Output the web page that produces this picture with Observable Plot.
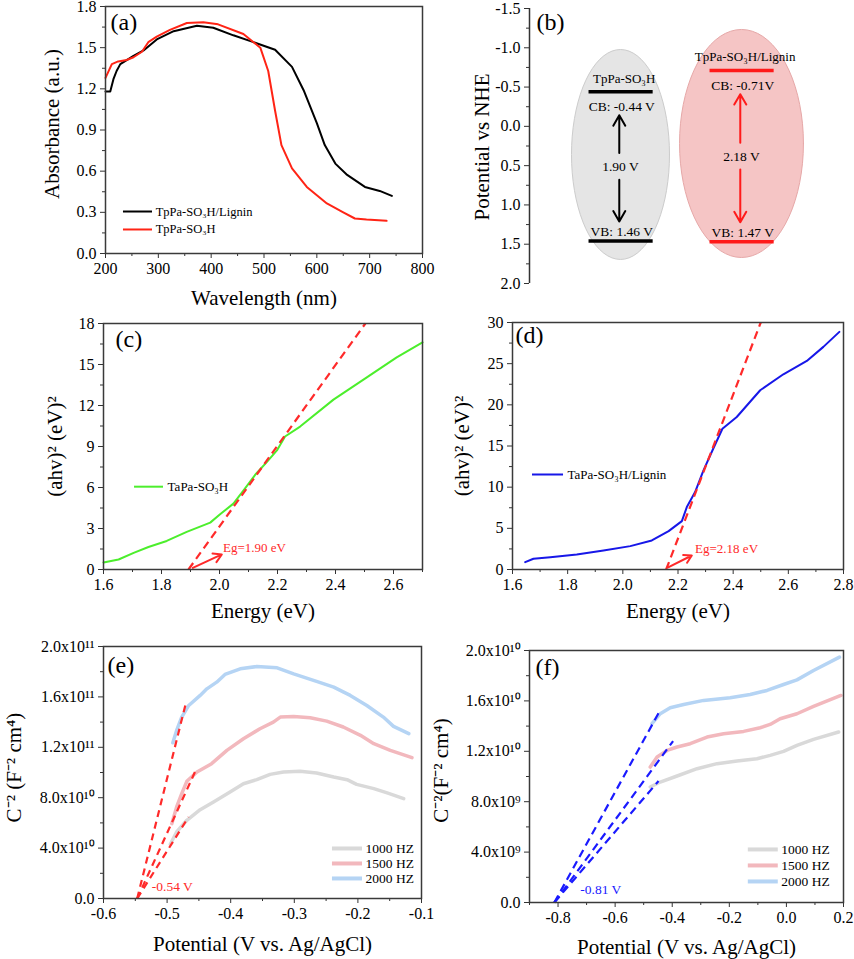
<!DOCTYPE html>
<html><head><meta charset="utf-8">
<script src="https://cdn.jsdelivr.net/npm/d3@7"></script>
<script src="https://cdn.jsdelivr.net/npm/@observablehq/plot@0.6"></script>
<style>
body{margin:0;background:#fff;}
#fig{position:relative;width:854px;height:959px;overflow:hidden;background:#fff;}
#fig svg, #fig svg text, #fig svg g{font-family:"Liberation Serif","Times New Roman",serif !important;}
</style></head><body><div id="fig"></div>
<script>
// ---------- (a) UV-vis absorbance ----------
const absLigninX = [200,209,215,221,228,253,272,297,329,373,404,442,480,521,553,575,600,615,635,656,691,719,742];
const absLigninY = [1.18,1.18,1.27,1.33,1.38,1.44,1.48,1.56,1.62,1.66,1.645,1.59,1.54,1.485,1.36,1.19,0.95,0.79,0.655,0.577,0.485,0.456,0.42];
const absSO3HX = [200,212,224,240,253,269,281,297,322,354,385,413,461,493,508,521,533,553,581,619,650,672,694,732];
const absSO3HY = [1.28,1.38,1.40,1.41,1.43,1.47,1.54,1.58,1.63,1.68,1.686,1.67,1.60,1.50,1.33,1.04,0.79,0.62,0.485,0.365,0.30,0.255,0.247,0.238];
const aLegend = ["TpPa-SO₃H/Lignin", "TpPa-SO₃H"];
const aXTicks = [200,300,400,500,600,700,800];
const aYTicks = [0,0.3,0.6,0.9,1.2,1.5,1.8];

// ---------- (b) band structure ----------
const bandMaterials = ["TpPa-SO₃H", "TpPa-SO₃H/Lignin"];
const bandCB = [-0.44, -0.71];
const bandVB = [1.46, 1.47];
const bandGap = [1.90, 2.18];
const bandCBLabels = ["CB: -0.44 V", "CB: -0.71V"];
const bandVBLabels = ["VB: 1.46 V", "VB: 1.47 V"];
const bandGapLabels = ["1.90 V", "2.18 V"];
const bYTicks = [-1.5,-1.0,-0.5,0,0.5,1.0,1.5,2.0];

// ---------- (c) Tauc TaPa-SO3H ----------
const energyC = [1.6,1.652,1.704,1.755,1.818,1.887,1.968,2.002,2.048,2.083,2.123,2.163,2.198,2.226,2.278,2.393,2.508,2.611,2.7];
const ahvC = [0.51,0.73,1.22,1.65,2.09,2.75,3.43,4.04,4.82,5.79,6.93,7.86,8.71,9.73,10.46,12.43,14.06,15.52,16.62];
const fitC = [{x1: 1.893, y1: 0, x2: 2.503, y2: 18}];
const cXTicks = [1.6,1.8,2.0,2.2,2.4,2.6];
const cYTicks = [0,3,6,9,12,15,18];

// ---------- (d) Tauc TaPa-SO3H/Lignin ----------
const energyD = [1.646,1.676,1.737,1.833,1.930,2.027,2.105,2.166,2.214,2.232,2.262,2.292,2.328,2.361,2.413,2.498,2.582,2.667,2.727,2.785];
const ahvD = [0.89,1.30,1.50,1.82,2.31,2.84,3.53,4.66,5.88,7.58,9.40,12.0,14.7,17.1,18.52,21.77,23.71,25.33,27.04,28.86];
const fitD = [{x1: 2.157, y1: 0, x2: 2.50, y2: 30}];
const dXTicks = [1.6,1.8,2.0,2.2,2.4,2.6,2.8];
const dYTicks = [0,5,10,15,20,25,30];

// ---------- (e) Mott-Schottky TpPa-SO3H (units of 1e10) ----------
const eGreyX = [-0.495,-0.485,-0.469,-0.448,-0.427,-0.401,-0.380,-0.359,-0.338,-0.317,-0.291,-0.265,-0.238,-0.217,-0.202,-0.175,-0.154,-0.128];
const eGreyY = [4.31,5.28,6.21,7.05,7.66,8.45,9.11,9.43,9.85,10.04,10.09,9.96,9.64,9.43,9.06,8.72,8.38,7.93];
const ePinkX = [-0.4926,-0.485,-0.477,-0.469,-0.453,-0.430,-0.406,-0.380,-0.354,-0.333,-0.322,-0.301,-0.275,-0.249,-0.223,-0.196,-0.175,-0.149,-0.115];
const ePinkY = [5.94,7.27,8.32,9.30,10.04,10.70,11.76,12.68,13.47,14.0,14.40,14.45,14.35,14.08,13.61,12.95,12.29,11.76,11.18];
const eBlueX = [-0.491,-0.485,-0.477,-0.466,-0.448,-0.4375,-0.422,-0.409,-0.385,-0.359,-0.327,-0.301,-0.265,-0.238,-0.212,-0.186,-0.160,-0.144,-0.120];
const eBlueY = [12.36,13.34,14.40,15.32,16.12,16.64,17.17,17.78,18.23,18.41,18.31,17.83,17.23,16.78,16.12,15.32,14.40,13.66,13.08];
const fitE = [{x1:-0.547,y1:0,x2:-0.4705,y2:15.51},{x1:-0.547,y1:0,x2:-0.4543,y2:10.25},{x1:-0.547,y1:0,x2:-0.4663,y2:6.47}];
const eXTicks = [-0.6,-0.5,-0.4,-0.3,-0.2,-0.1];
const eYTicks = [0,4,8,12,16,20];
const eYLabels = ["0.0","4.0x10¹⁰","8.0x10¹⁰","1.2x10¹¹","1.6x10¹¹","2.0x10¹¹"];

// ---------- (f) Mott-Schottky TpPa-SO3H/Lignin (units of 1e9) ----------
const fGreyX = [-0.477,-0.442,-0.383,-0.313,-0.243,-0.173,-0.103,-0.057,-0.010,0.037,0.095,0.183];
const fGreyY = [9.17,9.56,10.04,10.62,11.02,11.23,11.41,11.68,11.99,12.47,12.95,13.53];
const fPinkX = [-0.477,-0.453,-0.418,-0.383,-0.337,-0.278,-0.220,-0.150,-0.092,-0.057,-0.022,0.037,0.095,0.191];
const fPinkY = [10.75,11.55,12.07,12.34,12.60,13.13,13.39,13.58,13.87,14.13,14.58,14.98,15.56,16.43];
const fBlueX = [-0.471,-0.442,-0.407,-0.360,-0.290,-0.197,-0.127,-0.068,-0.010,0.037,0.095,0.186];
const fBlueY = [14.19,14.98,15.46,15.72,16.04,16.25,16.51,16.83,17.30,17.67,18.41,19.47];
const fitF = [{x1:-0.813,y1:0,x2:-0.444,y2:15.19},{x1:-0.813,y1:0,x2:-0.397,y2:12.81},{x1:-0.813,y1:0,x2:-0.448,y2:9.64}];
const fXTicks = [-0.8,-0.6,-0.4,-0.2,0,0.2];
const fYTicks = [0,4,8,12,16,20];
const fYLabels = ["0.0","4.0x10⁹","8.0x10⁹","1.2x10¹⁰","1.6x10¹⁰","2.0x10¹⁰"];
const freqLabels = ["1000 HZ","1500 HZ","2000 HZ"];

// ---------- helpers ----------
const FONT = '"Liberation Serif", "Times New Roman", serif';
const AX = "#333";
const pts = (xs, ys) => xs.map((x, i) => ({x, y: ys[i]}));
const fig = document.getElementById("fig");
function place(el, left, top) {
  el.style.position = "absolute";
  el.style.left = left + "px";
  el.style.top = top + "px";
  fig.appendChild(el);
}
const style = {fontFamily: FONT, fontSize: "16px", color: "#000", background: "transparent", overflow: "visible"};
const fix1 = d => d.toFixed(1);
function axes(xT, xM, xF, yT, yM, yF) {
  const m = [];
  if (xT) {
    m.push(Plot.axisX({ticks: xM, tickSize: 3, tickFormat: () => "", stroke: AX, label: null}));
    m.push(Plot.axisX({ticks: xT, tickSize: 5, tickFormat: xF, stroke: AX, fontSize: 16, fontFamily: FONT, label: null}));
  }
  m.push(Plot.axisY({ticks: yM, tickSize: 3, tickFormat: () => "", stroke: AX, label: null}));
  m.push(Plot.axisY({ticks: yT, tickSize: 5, tickFormat: yF, stroke: AX, fontSize: 16, fontFamily: FONT, label: null}));
  return m;
}
function yTitle(t, dx, dy) {
  return Plot.text([t], {text: d => d, frameAnchor: "left", rotate: -90, dx, dy, textAnchor: "middle", lineAnchor: "middle", fontSize: 21, fontFamily: FONT});
}
function xTitle(t, dy) {
  return Plot.text([t], {text: d => d, frameAnchor: "bottom", dy, textAnchor: "middle", lineAnchor: "middle", fontSize: 21, fontFamily: FONT});
}
function tag(t, dx, dy) {
  return Plot.text([t], {text: d => d, frameAnchor: "top-left", dx, dy, textAnchor: "start", lineAnchor: "middle", fontSize: 24, fontFamily: FONT});
}
const frame = () => Plot.frame({stroke: "#3a3a3a", strokeWidth: 1.5});

// ---------- (a) ----------
place(Plot.plot({
  width: 430, height: 315, marginLeft: 105, marginRight: 8, marginTop: 6, marginBottom: 62,
  style,
  x: {domain: [200, 800]},
  y: {domain: [0, 1.8]},
  marks: [
    ...axes(aXTicks, [250,350,450,550,650,750], d => String(d), aYTicks, [0.15,0.45,0.75,1.05,1.35,1.65], fix1),
    Plot.line(pts(absLigninX, absLigninY), {x: "x", y: "y", stroke: "#000", strokeWidth: 2}),
    Plot.line(pts(absSO3HX, absSO3HY), {x: "x", y: "y", stroke: "#ff2415", strokeWidth: 2}),
    Plot.ruleY([0.306], {x1: 234, x2: 289, stroke: "#000", strokeWidth: 2}),
    Plot.ruleY([0.175], {x1: 234, x2: 289, stroke: "#ff2415", strokeWidth: 2}),
    Plot.text([aLegend[0]], {x: 295, y: 0.306, text: d => d, textAnchor: "start", fontSize: 12.5, fontFamily: FONT}),
    Plot.text([aLegend[1]], {x: 295, y: 0.175, text: d => d, textAnchor: "start", fontSize: 12.5, fontFamily: FONT}),
    frame(),
    tag("(a)", 5, 16),
    yTitle("Absorbance (a.u.)", -53, -6),
    xTitle("Wavelength (nm)", 45)
  ]
}), 0, 0);

// ---------- (b) ----------
function ellipse(cx, cy, rx, ry) {
  return d3.range(0, 361, 5).map(a => ({x: cx + rx * Math.cos(a * Math.PI / 180), y: cy + ry * Math.sin(a * Math.PI / 180)}));
}
const bData = bandMaterials.map((m, i) => ({m, x: i + 1, cb: bandCB[i], vb: bandVB[i], gap: bandGap[i], mid: (bandCB[i] + bandVB[i]) / 2,
  cbl: bandCBLabels[i], vbl: bandVBLabels[i], gl: bandGapLabels[i]}));
const bColors = ["#000", "#ff1a1a"];
const bMarks = [
  Plot.line(ellipse(1, 0.358, 0.405, 1.336), {x: "x", y: "y", fill: "#e5e5e5", stroke: "#cccccc", strokeWidth: 1}),
  Plot.line(ellipse(2, 0.218, 0.512, 1.451), {x: "x", y: "y", fill: "#f5c5c5", stroke: "#e6a8a8", strokeWidth: 1})
];
bData.forEach((d, i) => {
  const c = bColors[i];
  bMarks.push(
    Plot.ruleY([d], {y: "cb", x1: d.x - 0.26, x2: d.x + 0.27, stroke: c, strokeWidth: 3.5}),
    Plot.ruleY([d], {y: "vb", x1: d.x - 0.26, x2: d.x + 0.27, stroke: c, strokeWidth: 3.5}),
    Plot.text([d], {x: d.x + 0.03, y: d.cb - 0.17, text: "m", fontSize: 13, fontFamily: FONT}),
    Plot.text([d], {x: d.x + 0.01, y: d.cb + 0.19, text: "cbl", fontSize: 13.5, fontFamily: FONT}),
    Plot.text([d], {x: d.x + 0.01, y: d.vb - 0.12, text: "vbl", fontSize: 13.5, fontFamily: FONT}),
    Plot.text([d], {x: d.x + 0.0, y: d.mid, text: "gl", fontSize: 13.5, fontFamily: FONT}),
    Plot.arrow([d], {x1: d.x - 0.01, x2: d.x - 0.01, y1: d.mid - 0.17, y2: d.cb + 0.30, stroke: c, strokeWidth: 2, headLength: 9}),
    Plot.arrow([d], {x1: d.x - 0.01, x2: d.x - 0.01, y1: d.mid + 0.17, y2: d.vb - 0.25, stroke: c, strokeWidth: 2, headLength: 9})
  );
});
place(Plot.plot({
  width: 424, height: 315, marginLeft: 99, marginRight: 0, marginTop: 8, marginBottom: 32,
  style,
  x: {domain: [0.248, 2.934], axis: null},
  y: {domain: [-1.5, 2.0], reverse: true},
  marks: [
    ...bMarks,
    ...axes(null, null, null, bYTicks, [-1.25,-0.75,-0.25,0.25,0.75,1.25,1.75], fix1),
    Plot.ruleX([0.248], {stroke: AX, strokeWidth: 1.5}),
    tag("(b)", 7, 14),
    yTitle("Potential vs NHE", -47, 1)
  ]
}), 430, 0);

// ---------- (c) ----------
place(Plot.plot({
  width: 430, height: 310, marginLeft: 103, marginRight: 8, marginTop: 8, marginBottom: 56,
  style,
  x: {domain: [1.6, 2.7]},
  y: {domain: [0, 18]},
  marks: [
    ...axes(cXTicks, [1.7,1.9,2.1,2.3,2.5,2.7], fix1, cYTicks, [1.5,4.5,7.5,10.5,13.5,16.5], d => String(d)),
    Plot.line(pts(energyC, ahvC), {x: "x", y: "y", stroke: "#4cee2c", strokeWidth: 2}),
    Plot.link(fitC, {x1: "x1", y1: "y1", x2: "x2", y2: "y2", stroke: "#ff2a2a", strokeWidth: 2.2, strokeDasharray: "8,5"}),
    Plot.arrow([0], {x1: 1.908, y1: 0.12, x2: 2.008, y2: 1.1, stroke: "#ff2a2a", strokeWidth: 2, headLength: 7}),
    Plot.text(["Eg=1.90 eV"], {x: 2.012, y: 1.56, text: d => d, textAnchor: "start", fill: "#ff2a2a", fontSize: 13, fontFamily: FONT}),
    Plot.ruleY([6.06], {x1: 1.707, x2: 1.807, stroke: "#4cee2c", strokeWidth: 2}),
    Plot.text(["TaPa-SO₃H"], {x: 1.821, y: 6.06, text: d => d, textAnchor: "start", fontSize: 13, fontFamily: FONT}),
    frame(),
    tag("(c)", 12, 16),
    yTitle("(ahv)² (eV)²", -48, 0),
    xTitle("Energy (eV)", 42)
  ]
}), 0, 315);

// ---------- (d) ----------
place(Plot.plot({
  width: 424, height: 310, marginLeft: 82, marginRight: 11, marginTop: 7, marginBottom: 56,
  style,
  x: {domain: [1.6, 2.8]},
  y: {domain: [0, 30]},
  marks: [
    ...axes(dXTicks, [1.7,1.9,2.1,2.3,2.5,2.7], fix1, dYTicks, [2.5,7.5,12.5,17.5,22.5,27.5], d => String(d)),
    Plot.line(pts(energyD, ahvD), {x: "x", y: "y", stroke: "#1717e8", strokeWidth: 2}),
    Plot.link(fitD, {x1: "x1", y1: "y1", x2: "x2", y2: "y2", stroke: "#ff2a2a", strokeWidth: 2.2, strokeDasharray: "8,5"}),
    Plot.arrow([0], {x1: 2.166, y1: 0.28, x2: 2.25, y2: 1.7, stroke: "#ff2a2a", strokeWidth: 2, headLength: 7}),
    Plot.text(["Eg=2.18 eV"], {x: 2.262, y: 2.51, text: d => d, textAnchor: "start", fill: "#ff2a2a", fontSize: 13, fontFamily: FONT}),
    Plot.ruleY([11.55], {x1: 1.6725, x2: 1.785, stroke: "#1717e8", strokeWidth: 2}),
    Plot.text(["TaPa-SO₃H/Lignin"], {x: 1.799, y: 11.55, text: d => d, textAnchor: "start", fontSize: 13, fontFamily: FONT}),
    frame(),
    tag("(d)", 3, 13),
    yTitle("(ahv)² (eV)²", -50, 0),
    xTitle("Energy (eV)", 42)
  ]
}), 430, 315);

// ---------- (e) ----------
const msColors = ["#d9d9d9", "#f2b8bd", "#b5d4f4"];
place(Plot.plot({
  width: 430, height: 334, marginLeft: 103, marginRight: 9, marginTop: 21, marginBottom: 61,
  style,
  x: {domain: [-0.6, -0.1]},
  y: {domain: [0, 20]},
  marks: [
    ...axes(eXTicks, [-0.55,-0.45,-0.35,-0.25,-0.15], fix1, eYTicks, [2,6,10,14,18], d => eYLabels[eYTicks.indexOf(d)]),
    Plot.line(pts(eGreyX, eGreyY), {x: "x", y: "y", stroke: msColors[0], strokeWidth: 3.5}),
    Plot.line(pts(ePinkX, ePinkY), {x: "x", y: "y", stroke: msColors[1], strokeWidth: 3.5}),
    Plot.line(pts(eBlueX, eBlueY), {x: "x", y: "y", stroke: msColors[2], strokeWidth: 3.5}),
    Plot.link(fitE, {x1: "x1", y1: "y1", x2: "x2", y2: "y2", stroke: "#ff2a2a", strokeWidth: 2.2, strokeDasharray: "7,5"}),
    Plot.text(["-0.54 V"], {x: -0.524, y: 0.92, text: d => d, textAnchor: "start", fill: "#ff2a2a", fontSize: 13.5, fontFamily: FONT}),
    ...[3.97, 2.78, 1.59].flatMap((yv, i) => [
      Plot.ruleY([yv], {x1: -0.24, x2: -0.1928, stroke: msColors[i], strokeWidth: 4}),
      Plot.text([freqLabels[i]], {x: -0.188, y: yv, text: d => d, textAnchor: "start", fontSize: 13.5, fontFamily: FONT})
    ]),
    frame(),
    tag("(e)", 4, 19),
    yTitle("C⁻² (F⁻² cm⁴)", -89, -5),
    xTitle("Potential (V vs. Ag/AgCl)", 46)
  ]
}), 0, 625);

// ---------- (f) ----------
place(Plot.plot({
  width: 424, height: 334, marginLeft: 99, marginRight: 11, marginTop: 25, marginBottom: 57,
  style,
  x: {domain: [-0.9, 0.2]},
  y: {domain: [0, 20]},
  marks: [
    ...axes(fXTicks, [-0.9,-0.7,-0.5,-0.3,-0.1,0.1], d => (Math.abs(d) < 1e-9 ? 0 : d).toFixed(1), fYTicks, [2,6,10,14,18], d => fYLabels[fYTicks.indexOf(d)]),
    Plot.line(pts(fGreyX, fGreyY), {x: "x", y: "y", stroke: msColors[0], strokeWidth: 3.5}),
    Plot.line(pts(fPinkX, fPinkY), {x: "x", y: "y", stroke: msColors[1], strokeWidth: 3.5}),
    Plot.line(pts(fBlueX, fBlueY), {x: "x", y: "y", stroke: msColors[2], strokeWidth: 3.5}),
    Plot.link(fitF, {x1: "x1", y1: "y1", x2: "x2", y2: "y2", stroke: "#1a1aff", strokeWidth: 2.2, strokeDasharray: "8,5"}),
    Plot.text(["-0.81 V"], {x: -0.722, y: 1.03, text: d => d, textAnchor: "start", fill: "#1a1aff", fontSize: 13.5, fontFamily: FONT}),
    ...[4.21, 2.94, 1.67].flatMap((yv, i) => [
      Plot.ruleY([yv], {x1: -0.1335, x2: -0.0285, stroke: msColors[i], strokeWidth: 4}),
      Plot.text([freqLabels[i]], {x: -0.018, y: yv, text: d => d, textAnchor: "start", fontSize: 13.5, fontFamily: FONT})
    ]),
    frame(),
    tag("(f)", 6, 17),
    yTitle("C⁻²(F⁻² cm⁴)", -88, -6),
    xTitle("Potential (V vs. Ag/AgCl)", 45)
  ]
}), 430, 625);
</script></body></html>
